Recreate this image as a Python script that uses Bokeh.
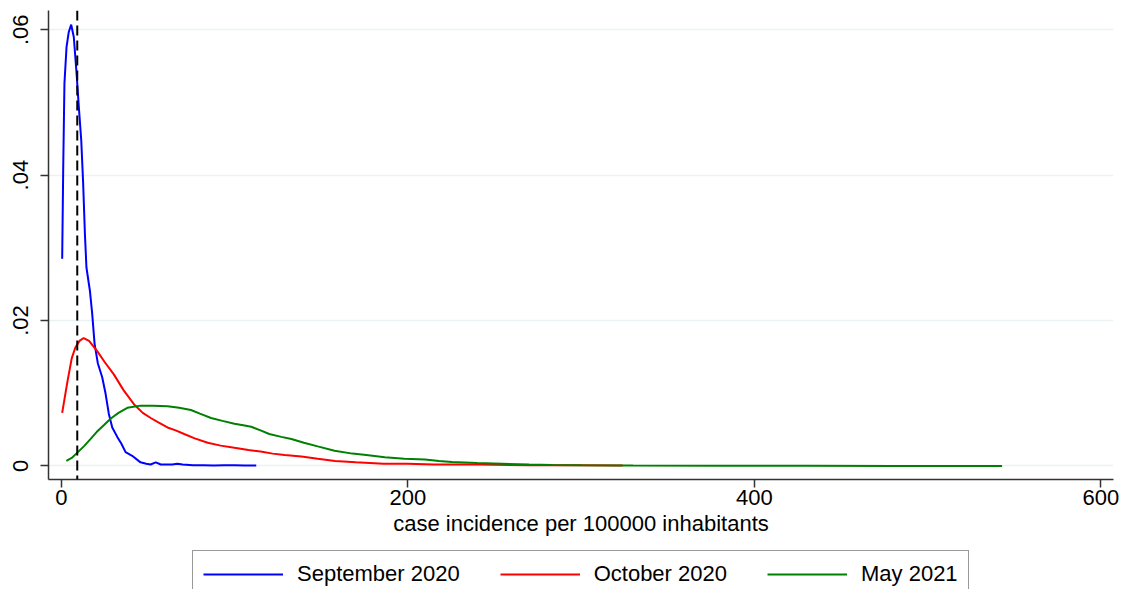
from bokeh.plotting import figure
from bokeh.layouts import column
from bokeh.models import (Range1d, FixedTicker, CustomJSTickFormatter, Span, Legend, LegendItem)
from bokeh.embed import file_html
from bokeh.resources import INLINE

# ---- data ----
sep_x = [0.5, 1.1, 1.8, 3.0, 4.3, 5.7, 7.2, 8.8, 10.1, 11.5, 12.6, 13.6, 14.5, 16.5, 17.8, 19.2,
         21.1, 23.6, 25.5, 27.4, 29.4, 32.3, 34.6, 37.1, 40.9, 45.7, 49.0, 51.5, 54.5, 57.4, 61.0,
         64.0, 67.0, 70.0, 76.0, 82.0, 88.0, 94.0, 100.0, 106.0, 112.5]
sep_y = [0.0285, 0.0411, 0.0526, 0.0576, 0.0597, 0.0607, 0.0590, 0.0540, 0.0494, 0.0448, 0.0389,
         0.0320, 0.0273, 0.0241, 0.0210, 0.0168, 0.0141, 0.0122, 0.0100, 0.0072, 0.0053, 0.0040,
         0.0031, 0.0019, 0.0014, 0.0005, 0.0003, 0.0002, 0.0005, 0.0002, 0.0002, 0.0002, 0.0003,
         0.0002, 0.0001, 0.0001, 0.00005, 0.0001, 0.0001, 0.00005, 0.00005]

oct_x = [0.5, 3.3, 6.0, 8.1, 10.5, 12.9, 16.0, 20.7, 25.0, 30.3, 36.0, 41.9, 47.0, 51.6, 56.0,
         61.3, 66.0, 70.9, 77.0, 84.5, 92.0, 99.9, 108.0, 115.0, 122.0, 128.9, 138.6, 148.0,
         158.0, 170.0, 186.0, 200.0, 215.0, 240.0, 270.0, 300.0, 324.0]
oct_y = [0.0073, 0.0113, 0.0148, 0.0163, 0.0172, 0.0176, 0.0172, 0.0158, 0.0143, 0.0126, 0.0104,
         0.0085, 0.0073, 0.0066, 0.0060, 0.0053, 0.0049, 0.0044, 0.0038, 0.0032, 0.0028, 0.0025,
         0.0022, 0.0020, 0.0017, 0.0015, 0.0013, 0.0010, 0.0007, 0.0005, 0.0003, 0.0003, 0.0002,
         0.0002, 0.0001, 0.0001, 0.00005]

may_x = [2.9, 6.0, 9.1, 13.0, 16.8, 20.5, 24.5, 28.4, 33.0, 38.1, 45.8, 53.0, 61.3, 68.0, 74.8,
         80.0, 86.4, 93.0, 99.9, 105.0, 109.6, 115.0, 120.0, 127.0, 132.8, 140.0, 148.0, 157.7,
         168.0, 176.0, 186.7, 198.0, 209.9, 218.0, 225.5, 240.0, 254.5, 270.0, 283.5, 300.0,
         330.0, 380.0, 430.0, 480.0, 543.0]
may_y = [0.0007, 0.0011, 0.0018, 0.0027, 0.0037, 0.0047, 0.0056, 0.0065, 0.0073, 0.0080, 0.0083,
         0.0083, 0.0082, 0.0080, 0.0077, 0.0072, 0.0066, 0.0062, 0.0058, 0.0056, 0.0054, 0.0049,
         0.0044, 0.0040, 0.0037, 0.0032, 0.0027, 0.0021, 0.0017, 0.0015, 0.0012, 0.0010, 0.0009,
         0.0007, 0.00055, 0.0004, 0.0003, 0.0002, 0.00014, 0.0001, 0.00005, 0.00003, 0.00002,
         0.00001, 0.00001]

marker_x = 9.2
x_ticks = [0, 200, 400, 600]
y_ticks = [0, 0.02, 0.04, 0.06]
series_names = ["September 2020", "October 2020", "May 2021"]
series_colors = ["#0000FF", "#FF0000", "#008000"]
x_title = "case incidence per 100000 inhabitants"

FONT = "Liberation Sans"
series = [(sep_x, sep_y), (oct_x, oct_y), (may_x, may_y)]

# ---- main plot ----
p = figure(width=1126, height=545, output_backend="svg", toolbar_location=None,
           x_range=Range1d(-7.4, 607.3), y_range=Range1d(-0.00186, 0.06265),
           min_border_left=48, min_border_right=13, min_border_top=10, min_border_bottom=66)
p.outline_line_color = None
p.background_fill_color = "white"
p.border_fill_color = "white"

p.xgrid.visible = False
p.ygrid.grid_line_color = "#EAF2F3"
p.ygrid.grid_line_width = 1.5
p.ygrid.ticker = FixedTicker(ticks=y_ticks)

for ax in (p.xaxis[0], p.yaxis[0]):
    ax.axis_line_color = "#333333"
    ax.axis_line_width = 1.5
    ax.major_tick_line_color = "#333333"
    ax.major_tick_line_width = 1.5
    ax.major_tick_out = 8
    ax.major_tick_in = 0
    ax.minor_tick_line_color = None
    ax.major_label_text_font = FONT
    ax.major_label_text_font_size = "22px"
    ax.major_label_text_color = "black"
    ax.axis_label_text_font = FONT
    ax.axis_label_text_font_size = "22px"
    ax.axis_label_text_font_style = "normal"
    ax.axis_label_text_color = "black"

p.xaxis.ticker = FixedTicker(ticks=x_ticks)
p.xaxis.axis_label = x_title
p.xaxis.major_label_standoff = 2
p.xaxis.axis_label_standoff = 3

p.yaxis.ticker = FixedTicker(ticks=y_ticks)
p.yaxis.major_label_orientation = "vertical"
p.yaxis.major_label_standoff = 12
p.yaxis.formatter = CustomJSTickFormatter(code="""
    if (Math.abs(tick) < 1e-12) return "0";
    return tick.toFixed(2).replace(/^0/, "");
""")

for (xs, ys), c in zip(series, series_colors):
    p.line(xs, ys, line_color=c, line_width=2)

p.add_layout(Span(location=marker_x, dimension="height", line_color="black",
                  line_width=2, line_dash="10 5"))

# ---- legend strip below (box runs off the bottom edge, as in the reference) ----
# the strip's y range lies above every density value, so its copies of the lines stay out of view
q = figure(width=1126, height=44, output_backend="svg", toolbar_location=None,
           x_axis_location=None, y_axis_location=None,
           x_range=Range1d(-7.4, 607.3), y_range=Range1d(1.0, 2.0),
           min_border_left=0, min_border_right=0, min_border_top=0, min_border_bottom=0)
q.outline_line_color = None
q.grid.visible = False
q.background_fill_color = "white"
q.border_fill_color = "white"

proxies = [q.line(xs, ys, line_color=c, line_width=2) for (xs, ys), c in zip(series, series_colors)]
legend = Legend(items=[LegendItem(label=n, renderers=[r]) for n, r in zip(series_names, proxies)],
                orientation="horizontal", location=(144, -9),
                label_text_font=FONT, label_text_font_size="22px", label_text_color="black",
                glyph_width=80, glyph_height=20, label_standoff=14, spacing=40,
                padding=10, margin=0, border_line_color="#333333", border_line_width=1.5,
                background_fill_color="white", background_fill_alpha=1.0)
q.add_layout(legend)

layout = column(p, q, spacing=0)
open("out.html", "w").write(file_html(layout, INLINE))
